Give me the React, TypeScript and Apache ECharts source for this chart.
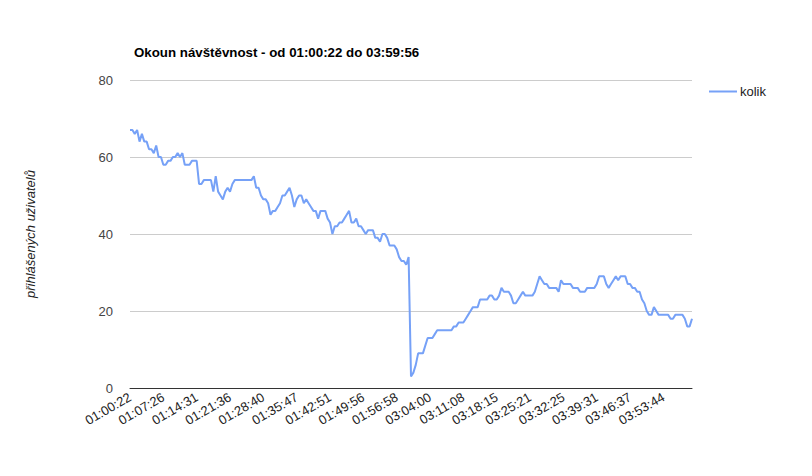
import { useEffect, useRef } from 'react'
import * as echarts from 'echarts'

const TITLE = 'Okoun návštěvnost - od 01:00:22 do 03:59:56'
const SERIES_NAME = 'kolik'
const Y_NAME = 'přihlášených uživatelů'

const TICK_LABELS = [
  '01:00:22', '01:07:26', '01:14:31', '01:21:36', '01:28:40', '01:35:47',
  '01:42:51', '01:49:56', '01:56:58', '03:04:00', '03:11:08', '03:18:15',
  '03:25:21', '03:32:25', '03:39:31', '03:46:37', '03:53:44'
]
const END_TIME = '03:59:56'
const POINTS_PER_TICK = 14

// počet přihlášených, jeden vzorek zhruba každých 30 s
const USERS = [
  67, 67, 66, 67, 64, 66, 64, 64, 62, 62,
  61, 63, 60, 60, 58, 58, 59, 59, 60, 60,
  61, 60, 61, 58, 58, 58, 59, 59, 59, 53,
  53, 54, 54, 54, 54, 51, 55, 51, 50, 49,
  51, 52, 51, 53, 54, 54, 54, 54, 54, 54,
  54, 54, 55, 52, 52, 50, 49, 49, 48, 45,
  46, 46, 47, 48, 50, 50, 51, 52, 50, 47,
  49, 50, 50, 48, 49, 48, 47, 46, 46, 44,
  46, 46, 46, 44, 43, 40, 42, 42, 43, 43,
  44, 45, 46, 43, 43, 44, 42, 42, 41, 40,
  41, 41, 41, 39, 39, 38, 40, 40, 39, 37,
  37, 37, 36, 34, 33, 33, 32, 34,
  3, 4, 6, 9, 9, 9, 11, 13, 13, 13,
  14, 15, 15, 15, 15, 15, 15, 15, 16, 16,
  17, 17, 17, 18, 19, 20, 21, 21, 21, 23,
  23, 23, 23, 24, 24, 23, 23, 24, 26, 25,
  25, 25, 24, 22, 22, 23, 24, 25, 24, 24,
  24, 24, 25, 27, 29, 28, 27, 27, 26,
  26, 26, 26, 25, 28, 27, 27, 27, 27, 26,
  26, 26, 25, 25, 25, 26, 26, 26, 26, 27,
  29, 29, 29, 27, 26, 27, 28, 29, 28, 29,
  29, 29, 27, 27, 26, 26, 25, 25, 23, 22,
  20, 19, 19, 21, 20, 19, 19, 19, 19, 19,
  18, 18, 19, 19, 19, 19, 18, 16, 16, 18
]

const FONT = 'Arial, "Liberation Sans", sans-serif'

function toSec(t: string) {
  const [h, m, s] = t.split(':').map(Number)
  return h * 3600 + m * 60 + s
}
function fromSec(v: number) {
  const p = (n: number) => String(n).padStart(2, '0')
  return `${p(Math.floor(v / 3600))}:${p(Math.floor((v % 3600) / 60))}:${p(v % 60)}`
}

// časy vzorků: od každého popisku osy po 30 s
const CATEGORIES = USERS.map((_, i) => {
  if (i === USERS.length - 1) return END_TIME
  const k = Math.min(Math.floor(i / POINTS_PER_TICK), TICK_LABELS.length - 1)
  return fromSec(toSec(TICK_LABELS[k]) + (i - k * POINTS_PER_TICK) * 30)
})

export default function App() {
  const ref = useRef<HTMLDivElement>(null)

  useEffect(() => {
    document.body.style.margin = '0'
    if (!ref.current) return
    const chart = echarts.init(ref.current, null, { renderer: 'svg' })
    chart.setOption({
      animation: false,
      backgroundColor: '#fff',
      textStyle: { fontFamily: FONT },
      title: {
        text: TITLE,
        left: 129,
        top: 41,
        textStyle: { fontFamily: FONT, fontSize: 13.3, fontWeight: 'bold', color: '#000' }
      },
      legend: {
        data: [SERIES_NAME],
        left: 704,
        top: 80,
        itemWidth: 28,
        itemHeight: 14,
        itemGap: 4,
        icon: 'path://M0,6 L28,6 L28,8 L0,8 Z',
        textStyle: { fontFamily: FONT, fontSize: 13, color: '#222', padding: [0, 0, 0, -2] }
      },
      grid: { left: 130, right: 120, top: 80, bottom: 88, containLabel: false },
      xAxis: {
        type: 'category',
        boundaryGap: false,
        data: CATEGORIES,
        axisLine: { lineStyle: { color: '#333', width: 1 } },
        axisTick: { show: false },
        axisLabel: {
          interval: POINTS_PER_TICK - 1,
          rotate: 30,
          margin: 8,
          fontFamily: FONT,
          fontSize: 13,
          color: '#222'
        },
        splitLine: { show: false }
      },
      yAxis: {
        type: 'value',
        min: 0,
        max: 80,
        interval: 20,
        name: Y_NAME,
        nameLocation: 'middle',
        nameRotate: 90,
        nameGap: 93,
        nameTextStyle: { fontFamily: FONT, fontSize: 13, fontStyle: 'italic', color: '#222' },
        axisLine: { show: false },
        axisTick: { show: false },
        axisLabel: { margin: 17, fontFamily: FONT, fontSize: 13, color: '#444' },
        splitLine: { lineStyle: { color: '#ccc', width: 1 } }
      },
      series: [{
        name: SERIES_NAME,
        type: 'line',
        data: USERS,
        showSymbol: false,
        symbol: 'none',
        color: '#76a1f7',
        lineStyle: { color: '#76a1f7', width: 2 }
      }]
    })
    return () => chart.dispose()
  }, [])

  return <div ref={ref} style={{ width: 812, height: 476 }} />
}
